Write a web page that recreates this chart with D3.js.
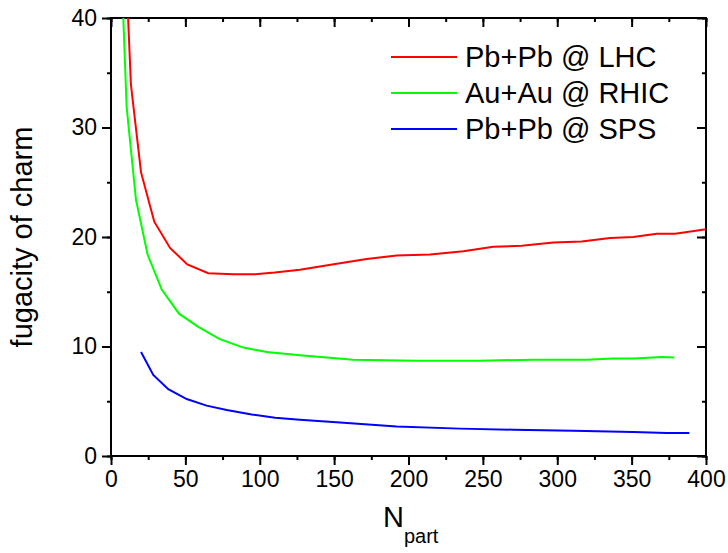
<!DOCTYPE html>
<html><head><meta charset="utf-8">
<script src="https://cdn.jsdelivr.net/npm/d3@7"></script>
<style>body{margin:0;background:#fff}svg{display:block}text{font-family:"Liberation Sans",Arial,sans-serif;fill:#000}</style>
</head><body>
<script>
const xTicks = [0,50,100,150,200,250,300,350,400];
const yTicks = [0,10,20,30,40];
const seriesNames = ["Pb+Pb @ LHC","Au+Au @ RHIC","Pb+Pb @ SPS"];
const seriesColors = ["#ff0000","#00ff00","#0000ff"];
const lhcX = [11.4,13.4,20.2,29.1,39.7,51.3,65.4,82.2,96.8,110,127,153.9,171.9,192,214.5,236.9,257,276.1,297.4,316.4,335.5,351.1,366.9,379.2,400];
const lhcY = [40.3,33.9,25.9,21.4,19.0,17.5,16.7,16.6,16.6,16.75,17.0,17.6,18.0,18.3,18.4,18.7,19.1,19.2,19.5,19.6,19.9,20.0,20.3,20.3,20.7];
const rhicX = [8.2,10.5,16.8,24.6,34.1,45.7,58.7,72.8,89,104.7,127,162.9,205.5,248,283.9,319.8,337.7,351.1,370.2,378.7];
const rhicY = [40.3,31.9,23.4,18.4,15.2,13.0,11.8,10.7,9.9,9.5,9.2,8.8,8.7,8.7,8.8,8.8,8.9,8.9,9.05,9.0];
const spsX = [20.2,28.4,38.5,50.9,64.3,77.8,94.6,110.3,127,154,192,234.6,270.5,310.8,351.1,373.6,388.8];
const spsY = [9.5,7.4,6.1,5.2,4.6,4.2,3.8,3.5,3.3,3.05,2.7,2.5,2.4,2.3,2.2,2.1,2.1];

const W=728,H=553, m={l:111,r:22,t:18,b:97};
const iw=W-m.l-m.r, ih=H-m.t-m.b;
const svg=d3.select("body").append("svg").attr("width",W).attr("height",H);
const x=d3.scaleLinear().domain([0,400]).range([0,iw]);
const y=d3.scaleLinear().domain([0,40]).range([ih,0]);
const g=svg.append("g").attr("transform",`translate(${m.l},${m.t})`);
svg.append("defs").append("clipPath").attr("id","clip").append("rect").attr("width",iw).attr("height",ih);

const minorX=d3.range(0,401,25), minorY=d3.range(0,41,5);
function styleAxis(sel){sel.select(".domain").remove();sel.selectAll("line").attr("stroke","#000").attr("stroke-width",2);}
// bottom
const bx=g.append("g").attr("transform",`translate(0,${ih})`).call(d3.axisBottom(x).tickValues(minorX).tickSize(4).tickFormat(""));
styleAxis(bx);
const bxM=g.append("g").attr("transform",`translate(0,${ih})`).call(d3.axisBottom(x).tickValues(xTicks).tickSize(9).tickPadding(6).tickFormat(d3.format("d")));
styleAxis(bxM); bxM.selectAll("text").attr("font-size",23);
// top
const tx=g.append("g").call(d3.axisBottom(x).tickValues(minorX).tickSize(4).tickFormat("")); styleAxis(tx);
const txM=g.append("g").call(d3.axisBottom(x).tickValues(xTicks).tickSize(9).tickFormat("")); styleAxis(txM);
// left
const ly=g.append("g").call(d3.axisLeft(y).tickValues(minorY).tickSize(4).tickFormat("")); styleAxis(ly);
const lyM=g.append("g").call(d3.axisLeft(y).tickValues(yTicks).tickSize(9).tickPadding(5).tickFormat(d3.format("d")));
styleAxis(lyM); lyM.selectAll("text").attr("font-size",23);
// right
const ry=g.append("g").attr("transform",`translate(${iw},0)`).call(d3.axisLeft(y).tickValues(minorY).tickSize(4).tickFormat("")); styleAxis(ry);
const ryM=g.append("g").attr("transform",`translate(${iw},0)`).call(d3.axisLeft(y).tickValues(yTicks).tickSize(9).tickFormat("")); styleAxis(ryM);
// frame
g.append("rect").attr("width",iw).attr("height",ih).attr("fill","none").attr("stroke","#000").attr("stroke-width",2);

const line=d3.line().x(d=>x(d[0])).y(d=>y(d[1]));
const data=[d3.zip(lhcX,lhcY),d3.zip(rhicX,rhicY),d3.zip(spsX,spsY)];
const lines=g.append("g").attr("clip-path","url(#clip)");
data.forEach((d,i)=>lines.append("path").datum(d).attr("d",line).attr("fill","none").attr("stroke",seriesColors[i]).attr("stroke-width",2));

// legend
const lg=svg.append("g");
seriesNames.forEach((n,i)=>{
  const yy=57+i*36;
  lg.append("line").attr("x1",391).attr("x2",457).attr("y1",yy).attr("y2",yy).attr("stroke",seriesColors[i]).attr("stroke-width",2);
  lg.append("text").attr("x",465).attr("y",yy+9.5).attr("font-size",29).text(n);
});
// axis titles
const xt=svg.append("text").attr("x",383).attr("y",527).attr("font-size",29);
xt.append("tspan").text("N");
xt.append("tspan").attr("dy",16).attr("font-size",20).text("part");
svg.append("text").attr("transform",`translate(32,237) rotate(-90)`).attr("text-anchor","middle").attr("font-size",29).text("fugacity of charm");
</script>
</body></html>
